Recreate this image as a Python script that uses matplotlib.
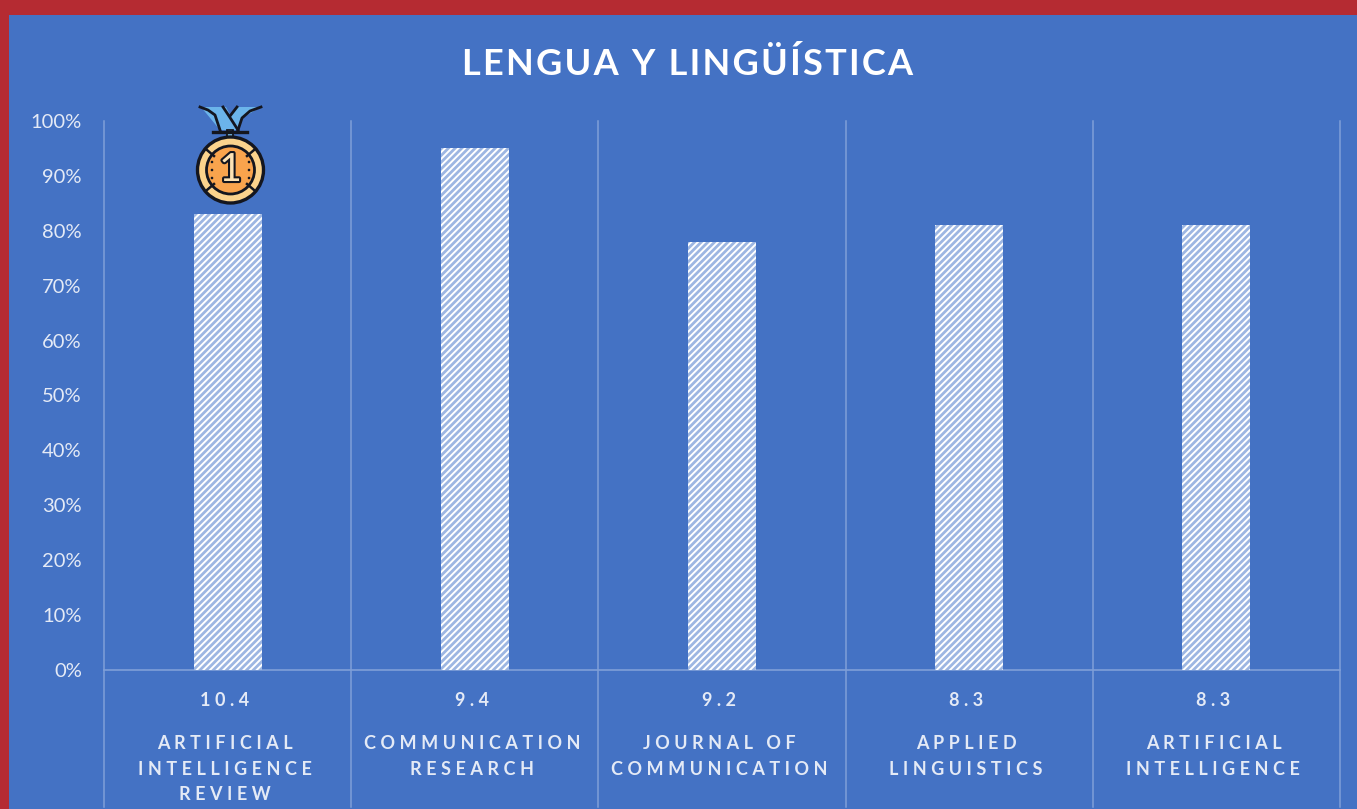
import matplotlib
matplotlib.use("Agg")
import matplotlib.pyplot as plt
import matplotlib.patheffects as pe
from matplotlib.patches import Circle, Polygon, Rectangle
from matplotlib.ticker import PercentFormatter

BLUE = '#4472c4'
RED = '#b52b32'
LINE = '#7f9fd8'
TXT = '#e4eaf6'

journals = ['ARTIFICIAL\nINTELLIGENCE\nREVIEW', 'COMMUNICATION\nRESEARCH', 'JOURNAL OF\nCOMMUNICATION',
            'APPLIED\nLINGUISTICS', 'ARTIFICIAL\nINTELLIGENCE']
impact = ['10.4', '9.4', '9.2', '8.3', '8.3']
percent = [83, 95, 78, 81, 81]
yticks = [0, 10, 20, 30, 40, 50, 60, 70, 80, 90, 100]


def spaced(s, sep='\u2009\u2009'):
    # matplotlib has no letter spacing
    return '\n'.join(sep.join(line) for line in s.split('\n'))


plt.rcParams['font.family'] = ['Lato', 'DejaVu Sans']
plt.rcParams['hatch.linewidth'] = 1.4
plt.rcParams['hatch.color'] = 'white'

W, H = 1357, 809
fig = plt.figure(figsize=(W/100, H/100), dpi=100, facecolor=BLUE)

# red frame, left and top
fig.add_artist(Rectangle((0, 0), 9/W, 1, transform=fig.transFigure, color=RED, lw=0))
fig.add_artist(Rectangle((0, 1-15/H), 1, 15/H, transform=fig.transFigure, color=RED, lw=0))

ax = fig.add_axes([104/W, 1-670/H, (1340-104)/W, (670-121)/H], facecolor=BLUE)
x = range(len(percent))
ax.bar(x, percent, width=0.275, facecolor='#9db6e2', edgecolor='white', hatch='/////', lw=0, zorder=3)
ax.set_xlim(-0.5, 4.5)
ax.set_ylim(0, 100)
ax.set_yticks(yticks)
ax.yaxis.set_major_formatter(PercentFormatter(decimals=0))
ax.tick_params(axis='y', length=0, pad=16, labelsize=14.5, labelcolor=TXT)
ax.set_xticks([])
for s in ['top', 'right', 'left']:
    ax.spines[s].set_visible(False)
ax.spines['bottom'].set_color(LINE)
ax.spines['bottom'].set_linewidth(1.2)

# cell borders run down through the label rows
for i in range(len(percent) + 1):
    ax.plot([i-0.5, i-0.5], [100, -25], color=LINE, lw=1.1, clip_on=False, zorder=1)

tr = ax.get_xaxis_transform()
for i in x:
    ax.text(i-0.012, -(701-670)/549, spaced(impact[i]), transform=tr, ha='center', va='center',
            color=TXT, fontsize=13, fontweight='bold')
    ax.text(i-0.012, -(735-670)/549, spaced(journals[i]), transform=tr, ha='center', va='top',
            color=TXT, fontsize=13, fontweight='bold', linespacing=1.62)

fig.text(688/W, 1-64/H, spaced('LENGUA Y LINGÜÍSTICA', '\u200a'), ha='center', va='center',
         color='white', fontsize=26, fontweight='bold')

# medal icon, drawn in pixel space
ov = fig.add_axes([0, 0, 1, 1], facecolor='none')
ov.set_xlim(0, W)
ov.set_ylim(H, 0)
ov.axis('off')
DARK = '#14161f'
for p in [
    Polygon([(201, 107), (226, 107), (238, 130), (220, 130)], fc='#6bb4ea', ec='none'),
    Polygon([(236, 107), (261, 107), (242, 118), (238, 130), (230, 118)], fc='#6bb4ea', ec='none'),
    Rectangle((227, 130), 6, 8, fc='#7cc0ee', ec=DARK, lw=1.3),
    Circle((230.5, 170), 33, fc='#fbd38d', ec=DARK, lw=2.4),
    Circle((230.5, 170), 24, fc='#f9a44d', ec=DARK, lw=2),
]:
    ov.add_patch(p)
ov.plot([200, 208, 215, 220], [107, 110, 115, 130], color=DARK, lw=2)
ov.plot([223, 229, 238], [107, 116, 130], color=DARK, lw=2)
ov.plot([261, 250, 242, 238], [107, 111, 118, 130], color=DARK, lw=2)
ov.plot([237, 230], [107, 116], color=DARK, lw=2)
ov.plot([213, 247], [132, 132], color=DARK, lw=2.4)
ov.plot([207, 214], [150, 156], color=DARK, lw=1.8)
ov.plot([254, 247], [150, 156], color=DARK, lw=1.8)
ov.plot([207, 214], [190, 184], color=DARK, lw=1.8)
ov.plot([254, 247], [190, 184], color=DARK, lw=1.8)
for px in (212, 249):
    for py in (162, 170, 178):
        ov.add_patch(Circle((px, py), 1.3, fc=DARK, ec='none'))
ov.text(230.5, 170, '1', ha='center', va='center', fontsize=28, color='#fde3b5',
        path_effects=[pe.withStroke(linewidth=3, foreground=DARK)])

fig.savefig('out.png', dpi=100, facecolor=BLUE)
